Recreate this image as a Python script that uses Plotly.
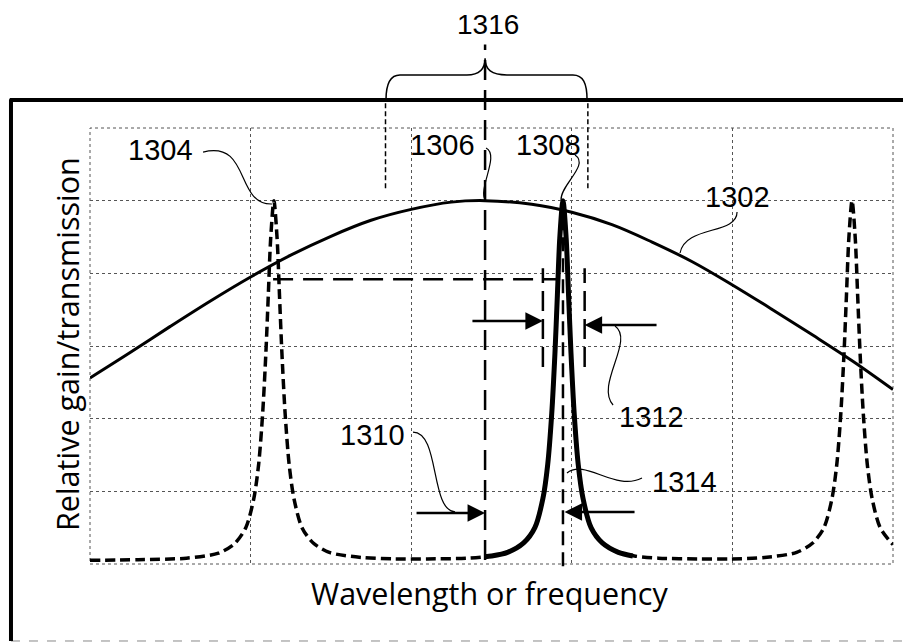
import plotly.graph_objects as go

# ---------------- data ----------------
X_RANGE = [0, 5]
Y_RANGE = [0, 6]

# 1302: relative gain curve
gain_x = [0.00, 0.25, 0.50, 0.75, 1.00, 1.25, 1.50, 1.75, 2.00, 2.25, 2.46,
          2.75, 3.00, 3.25, 3.50, 3.75, 4.00, 4.25, 4.50, 4.75, 5.00]
gain_y = [2.56, 2.91, 3.27, 3.62, 3.95, 4.25, 4.51, 4.73, 4.88, 4.98, 5.00,
          4.95, 4.84, 4.67, 4.43, 4.16, 3.84, 3.50, 3.15, 2.79, 2.40]

# 1304: filter transmission comb (dashed)
comb_x = [0.00, 0.30, 0.60, 0.80, 0.90, 0.97, 1.02, 1.05, 1.075, 1.095, 1.11, 1.125,
          1.145, 1.165, 1.18, 1.195, 1.215, 1.24, 1.27, 1.32, 1.39, 1.49, 1.69, 1.90,
          2.10, 2.35, 2.50, 2.60, 2.70, 2.77, 2.82, 2.85, 2.875, 2.895, 2.91, 2.925,
          2.945, 2.965, 2.98, 2.995, 3.015, 3.04, 3.07, 3.12, 3.19, 3.29, 3.39, 3.54,
          3.79, 3.99, 4.20, 4.40, 4.50, 4.57, 4.62, 4.65, 4.675, 4.695, 4.71, 4.725,
          4.745, 4.765, 4.78, 4.795, 4.815, 4.84, 4.87, 4.92, 4.99, 5.00]
comb_y = [0.05, 0.06, 0.08, 0.15, 0.28, 0.50, 0.90, 1.37, 2.07, 2.90, 3.69, 4.48,
          5.00, 4.48, 3.69, 2.90, 2.07, 1.37, 0.90, 0.50, 0.29, 0.16, 0.09, 0.07,
          0.07, 0.08, 0.11, 0.16, 0.29, 0.50, 0.90, 1.37, 2.07, 2.90, 3.69, 4.48,
          5.00, 4.48, 3.69, 2.90, 2.07, 1.37, 0.90, 0.50, 0.29, 0.16, 0.11, 0.08,
          0.07, 0.07, 0.09, 0.16, 0.29, 0.50, 0.90, 1.37, 2.07, 2.90, 3.69, 4.48,
          5.00, 4.48, 3.69, 2.90, 2.07, 1.37, 0.90, 0.50, 0.29, 0.27]

# 1308: selected filter peak (solid)
peak_x = [2.46, 2.50, 2.60, 2.70, 2.77, 2.82, 2.85, 2.875, 2.895, 2.91, 2.925,
          2.945, 2.965, 2.98, 2.995, 3.015, 3.04, 3.07, 3.12, 3.19, 3.29, 3.38]
peak_y = [0.10, 0.11, 0.16, 0.29, 0.50, 0.90, 1.37, 2.07, 2.90, 3.69, 4.48,
          5.00, 4.48, 3.69, 2.90, 2.07, 1.37, 0.90, 0.50, 0.29, 0.16, 0.11]

# key features
GAIN_PEAK_X = 2.46
GAIN_PEAK_Y = 5.0
FILTER_PEAK_X = 2.945
LEFT_PEAK_X = 1.14
LEVEL_Y = 3.92
WIDTH_L_X = 2.82
WIDTH_R_X = 3.08
BRACE_L_X = 1.84
BRACE_R_X = 3.10

label_text = ["1316", "1304", "1306", "1308", "1302", "1312", "1314", "1310"]
label_x = [2.478, 0.436, 2.192, 2.852, 4.029, 3.499, 3.699, 1.762]
label_y = [7.42, 5.697, 5.766, 5.766, 5.050, 2.023, 1.128, 1.775]
label_size = [28, 29, 29, 29, 29, 29, 29, 29]

X_TITLE = "Wavelength or frequency"
Y_TITLE = "Relative gain/transmission"


def px(x):
    return (x - X_RANGE[0]) / (X_RANGE[1] - X_RANGE[0])


def py(y):
    return (y - Y_RANGE[0]) / (Y_RANGE[1] - Y_RANGE[0])


def P(x, y):
    return f"{px(x):.5f},{py(y):.5f}"


fig = go.Figure()
fig.add_trace(go.Scatter(x=gain_x, y=gain_y, mode="lines",
                         line=dict(color="black", width=3, shape="spline", smoothing=1.0),
                         hoverinfo="skip"))
fig.add_trace(go.Scatter(x=comb_x, y=comb_y, mode="lines",
                         line=dict(color="black", width=3.5, dash="10px,5px",
                                   shape="spline", smoothing=0.8),
                         hoverinfo="skip"))
fig.add_trace(go.Scatter(x=peak_x, y=peak_y, mode="lines",
                         line=dict(color="black", width=5, shape="spline", smoothing=0.8),
                         hoverinfo="skip"))

shapes = []
# outer frame
shapes.append(dict(type="rect", xref="paper", yref="paper", x0=-0.0984, x1=1.03,
                   y0=-0.1766, y1=1.064, line=dict(color="#888", width=1, dash="dash"),
                   layer="below"))
shapes.append(dict(type="line", xref="paper", yref="paper", x0=-0.1, x1=1.03,
                   y0=1.064, y1=1.064, line=dict(color="black", width=4)))
shapes.append(dict(type="line", xref="paper", yref="paper", x0=-0.0984, x1=-0.0984,
                   y0=-0.1766, y1=1.066, line=dict(color="black", width=4)))
# dotted plot border
shapes.append(dict(type="rect", xref="paper", yref="paper", x0=0, x1=1, y0=0, y1=1,
                   line=dict(color="#555", width=1, dash="dot"), layer="below"))

dash_long = "20px,10px"
# gain peak vertical line (1306)
shapes.append(dict(type="line", xref="paper", yref="paper",
                   x0=px(GAIN_PEAK_X), x1=px(GAIN_PEAK_X), y0=py(0.055), y1=py(7.15),
                   line=dict(color="black", width=2.5, dash=dash_long)))
# filter peak vertical line
shapes.append(dict(type="line", xref="paper", yref="paper",
                   x0=px(FILTER_PEAK_X), x1=px(FILTER_PEAK_X), y0=py(-0.03), y1=py(5.0),
                   line=dict(color="black", width=2.5, dash="14px,7px")))
# width markers (1312)
for wx in (WIDTH_L_X, WIDTH_R_X):
    shapes.append(dict(type="line", xref="paper", yref="paper",
                       x0=px(wx), x1=px(wx), y0=py(2.71), y1=py(4.07),
                       line=dict(color="black", width=2.5, dash="20px,8px")))
# horizontal level line
shapes.append(dict(type="line", xref="paper", yref="paper",
                   x0=px(LEFT_PEAK_X), x1=px(2.91), y0=py(LEVEL_Y), y1=py(LEVEL_Y),
                   line=dict(color="black", width=2.5, dash=dash_long)))
# brace side dashed lines (1316)
for bx in (BRACE_L_X, BRACE_R_X):
    shapes.append(dict(type="line", xref="paper", yref="paper",
                       x0=px(bx), x1=px(bx), y0=py(5.17), y1=py(6.385),
                       line=dict(color="black", width=1.5, dash="5px,3px")))
# brace
brace = ("M" + P(1.843, 6.385) + " C" + P(1.843, 6.62) + " " + P(1.87, 6.73) + " " + P(1.93, 6.73)
         + " L" + P(2.347, 6.73)
         + " C" + P(2.42, 6.73) + " " + P(2.46, 6.80) + " " + P(GAIN_PEAK_X, 6.96)
         + " C" + P(2.46, 6.80) + " " + P(2.50, 6.73) + " " + P(2.596, 6.73)
         + " L" + P(3.007, 6.73)
         + " C" + P(3.07, 6.73) + " " + P(3.095, 6.62) + " " + P(3.095, 6.385))
shapes.append(dict(type="path", xref="paper", yref="paper", path=brace,
                   line=dict(color="black", width=1.5)))

# leader curves
leaders = [
    [(0.704, 5.669), (1.0, 5.835), (0.903, 4.94), (1.133, 4.954)],      # 1304
    [(2.466, 5.724), (2.553, 5.628), (2.416, 5.174), (2.46, 5.009)],     # 1306
    [(3.02, 5.628), (3.113, 5.49), (2.927, 5.215), (2.933, 5.009)],      # 1308
    [(4.029, 4.844), (4.029, 4.527), (3.705, 4.665), (3.674, 4.28)],     # 1302
    [(3.269, 3.275), (3.394, 3.082), (3.144, 2.463), (3.257, 2.188)],    # 1312
    [(2.970, 1.252), (3.082, 1.459), (3.269, 0.991), (3.437, 1.183)],    # 1314
    [(2.011, 1.816), (2.179, 1.816), (2.117, 0.743), (2.273, 0.716)],    # 1310
]
for pts in leaders:
    path = "M" + P(*pts[0]) + " C" + " ".join(P(*p) for p in pts[1:])
    shapes.append(dict(type="path", xref="paper", yref="paper", path=path,
                       line=dict(color="black", width=1.2)))

annotations = []
for t, lx, ly, ls in zip(label_text, label_x, label_y, label_size):
    annotations.append(dict(text=t, xref="paper", yref="paper", x=px(lx), y=py(ly),
                            xanchor="center", yanchor="middle", showarrow=False,
                            font=dict(family="Liberation Sans, Arial", size=ls, color="black")))

# arrows: (head_x, head_y, tail_x, tail_y)
arrows = [
    (WIDTH_L_X, 3.344, 2.372, 3.344),
    (WIDTH_R_X, 3.289, 3.537, 3.289),
    (GAIN_PEAK_X, 0.702, 2.024, 0.702),
    (FILTER_PEAK_X + 0.01, 0.716, 3.40, 0.716),
]
for hx, hy, tx, ty in arrows:
    annotations.append(dict(x=hx, y=hy, ax=tx, ay=ty, xref="x", yref="y", axref="x", ayref="y",
                            text="", showarrow=True, arrowhead=2, arrowsize=1.4,
                            arrowwidth=2.5, arrowcolor="black", standoff=0))

annotations.append(dict(text=X_TITLE, xref="paper", yref="paper", x=0.498, y=-0.0665,
                        xanchor="center", yanchor="middle", showarrow=False,
                        font=dict(family="Open Sans", size=30.5, color="black")))
annotations.append(dict(text=Y_TITLE, xref="paper", yref="paper", x=-0.0286, y=0.5046,
                        xanchor="center", yanchor="middle", showarrow=False, textangle=-90,
                        font=dict(family="Open Sans", size=30.5, color="black")))

# page body has an 8px margin: figure is 8px smaller so the plot lands where the reference has it
fig.update_layout(
    width=903, height=635,
    margin=dict(l=82, r=18, t=120, b=79),
    paper_bgcolor="white", plot_bgcolor="white",
    showlegend=False,
    shapes=shapes, annotations=annotations,
    xaxis=dict(range=X_RANGE, dtick=1, tick0=0, showgrid=True, gridcolor="#555",
               gridwidth=1, griddash="dot", zeroline=False, showticklabels=False,
               ticks="", showline=False, fixedrange=True),
    yaxis=dict(range=Y_RANGE, dtick=1, tick0=0, showgrid=True, gridcolor="#555",
               gridwidth=1, griddash="dot", zeroline=False, showticklabels=False,
               ticks="", showline=False, fixedrange=True),
)

fig.write_html("out.html", config={"displayModeBar": False})
